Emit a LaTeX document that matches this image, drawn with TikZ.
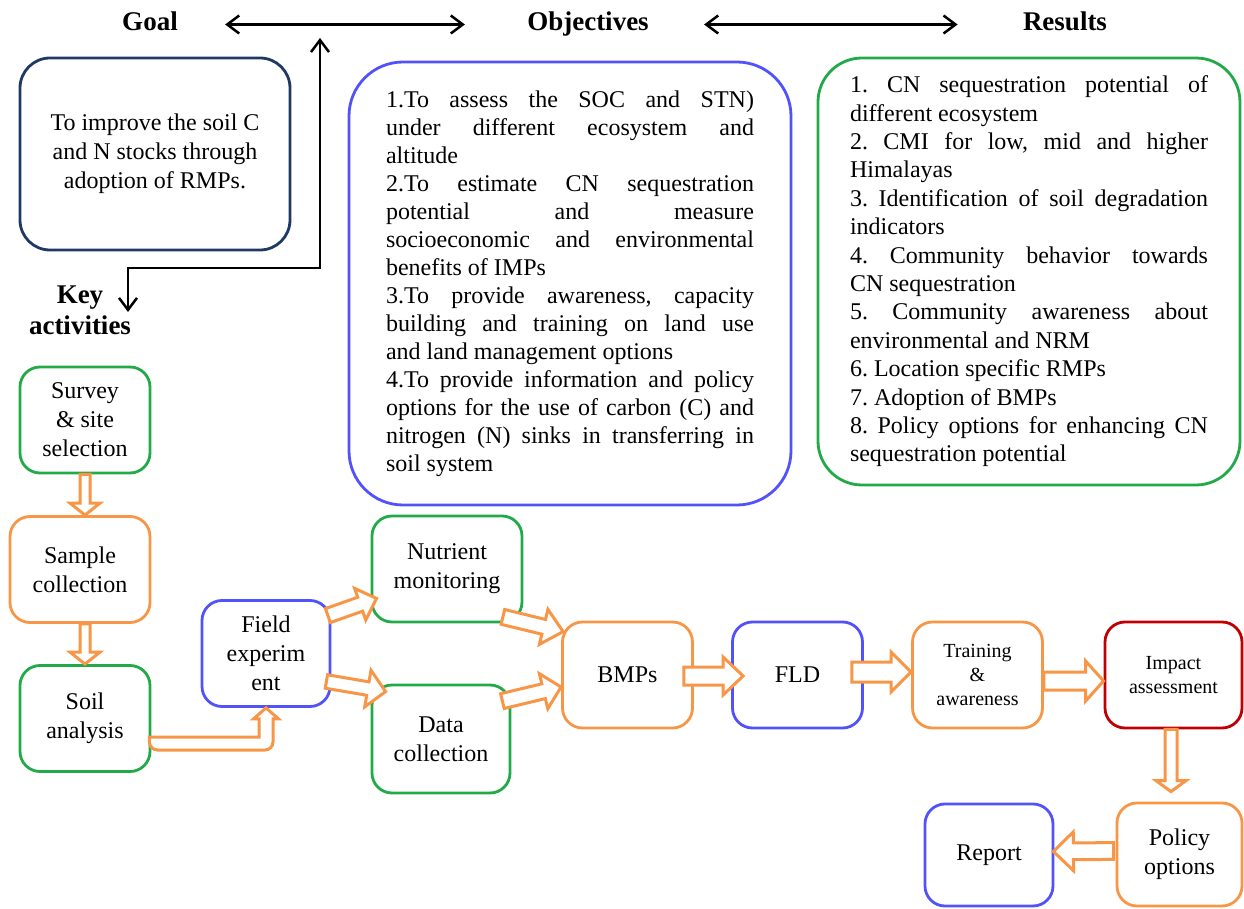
\documentclass[tikz,border=0pt]{standalone}
\usepackage{fontspec}
\setmainfont{Liberation Serif}
\usetikzlibrary{arrows.meta}
\usetikzlibrary{calc}
\setlength{\parindent}{0pt}
\tolerance=10000
\hbadness=10000
\frenchspacing

\definecolor{bgreen}{RGB}{34,170,72}
\definecolor{borange}{RGB}{247,150,70}
\definecolor{bblue}{RGB}{82,82,250}
\definecolor{bnavy}{RGB}{31,56,100}
\definecolor{bred}{RGB}{192,0,0}

\tikzset{>={Straight Barb[length=6pt,width=9pt]}}
\tikzset{
    box/.style={draw, rounded corners=10pt, line width=1.4pt, align=center, inner sep=1pt,
        minimum width=65pt, minimum height=53pt, font=\fontsize{12}{14.5}\selectfont},
    greenbox/.style={box, draw=bgreen},
    orangebox/.style={box, draw=borange},
    bluebox/.style={box, draw=bblue},
    redbox/.style={box, draw=bred},
    smalltext/.style={font=\fontsize{10}{12}\selectfont},
    boldtext/.style={inner sep=0pt, font=\fontsize{13.5}{15.5}\selectfont\bfseries},
    heading/.style={boldtext, anchor=base, text height=9.5pt, text depth=3pt},
    linkarrow/.style={<->, line width=1.25pt},
    blockarr/.style={draw=borange, fill=white, line width=1.5pt, line join=miter}
}

% hollow block arrow: tail, tip, shaft half width, head half width, head length (pt)
\newcommand{\blockarrow}[5]{%
    \draw[blockarr] let \p1=(#1), \p2=(#2),
        \n1={atan2(\y2-\y1,\x2-\x1)}, \n2={veclen(\x2-\x1,\y2-\y1)} in
        [shift={(\x1,\y1)}, rotate=\n1]
        (0pt,#3pt) -- ({\n2-#5pt},#3pt) -- ({\n2-#5pt},#4pt) -- ({\n2+0pt},0pt)
        -- ({\n2-#5pt},-#4pt) -- ({\n2-#5pt},-#3pt) -- (0pt,-#3pt) -- cycle;
}

\begin{document}
\begin{tikzpicture}[x=0.5pt, y=-0.5pt]
    \useasboundingbox (0,0) rectangle (1244,909);

    % headings
    \node[heading] (hgoal) at (150,31) {Goal};
    \node[heading] (hobj) at (588,31) {Objectives};
    \node[heading] (hres) at (1065,31) {Results};
    \node[boldtext, align=center] (hkey) at (80,310) {Key\\activities};

    \coordinate (uptip) at (320,38);
    \coordinate (keytip) at (128,312);

    \draw[linkarrow, shorten <=23.5pt, shorten >=31pt] (hgoal.east) -- (hobj.west);
    \draw[linkarrow, shorten <=27.5pt, shorten >=32.5pt] (hobj.east) -- (hres.west);
    \draw[linkarrow] (uptip) |- ($(keytip)+(0,-44)$) -- (keytip);

    % top boxes
    \node[box, draw=bnavy, rounded corners=15pt, minimum width=135pt, minimum height=96pt] (goal) at (155,154)
        {To improve the soil C\\and N stocks through\\adoption of RMPs.};

    \node[box, draw=bblue, rounded corners=27pt, minimum width=221pt, minimum height=221.5pt,
        text width=184pt, align=justify, font=\fontsize{12}{14}\selectfont] (obj) at (570,283.5)
        {1.To assess the SOC and STN)\linebreak under different ecosystem and\linebreak altitude\\
        2.To estimate CN sequestration\linebreak potential and measure\linebreak
        socioeconomic and environmental\linebreak benefits of IMPs\\
        3.To provide awareness, capacity\linebreak building and training on land use\linebreak
        and land management options\\
        4.To provide information and policy\linebreak options for the use of carbon (C) and\linebreak
        nitrogen (N) sinks in transferring in\linebreak soil system};

    \node[box, draw=bgreen, rounded corners=22pt, minimum width=211pt, minimum height=213.5pt,
        text width=179pt, align=justify, font=\fontsize{12}{14.2}\selectfont] (res) at (1029,271.5)
        {1. CN sequestration potential of\linebreak different ecosystem\\
        2. CMI for low, mid and higher\linebreak Himalayas\\
        3. Identification of soil degradation\linebreak indicators\\
        4. Community behavior towards\linebreak CN sequestration\\
        5. Community awareness about\linebreak environmental and NRM\\
        6. Location specific RMPs\\
        7. Adoption of BMPs\\
        8. Policy options for enhancing CN\linebreak sequestration potential};

    % key activities
    \node[greenbox] (survey) at (85,420) {Survey\\\& site\\selection};
    \node[orangebox, minimum width=70pt] (sample) at (80,569.5) {Sample\\collection};
    \node[greenbox] (soil) at (85,718.5) {Soil\\analysis};
    \node[bluebox, minimum width=64pt] (field) at (266,653.5) {Field\\experim\\ent};
    \node[greenbox, minimum width=75pt] (nutr) at (447,569) {Nutrient\\monitoring};
    \node[greenbox, minimum width=69pt, minimum height=54pt] (data) at (441,739) {Data\\collection};
    \node[orangebox] (bmps) at (627.5,675) {BMPs};
    \node[bluebox] (fld) at (797.5,675) {FLD};
    \node[orangebox, smalltext] (train) at (977.5,675) {Training\\\&\\awareness};
    \node[redbox, smalltext, minimum width=68.5pt] (impact) at (1173.5,675) {Impact\\assessment};
    \node[orangebox, minimum width=62.5pt, minimum height=51.5pt] (policy) at (1179.5,854.5) {Policy\\options};
    \node[bluebox, minimum width=64pt, minimum height=51pt] (report) at (989,855) {Report};

    % block arrows
    \blockarrow{survey.south}{survey.south |- sample.north}{2.5}{7.5}{6}
    \blockarrow{soil.north |- sample.south}{soil.north}{2.5}{7.5}{6}
    \draw[blockarr] ($(soil.east)+(-2,18.5)$) -| ($(field.south)+(-7,11)$) -- ++(-5.5,0)
        -- (field.south) -- ++(12.5,11) -- ++(-5.5,0) [rounded corners=4pt]
        |- ($(soil.east)+(-2,31.5)$) [sharp corners] -- cycle;
    \blockarrow{$(field.north east)+(-3.5,16.5)$}{$(nutr.south west)+(6,-25)$}{3.7}{8.4}{8.7}
    \blockarrow{$(field.east)+(-5,28)$}{$(data.north west)+(15,8)$}{3.4}{9.3}{9}
    \blockarrow{$(nutr.south east)+(-20.5,-6.5)$}{$(bmps.north west)+(2,11)$}{3.8}{9}{10}
    \blockarrow{$(data.north east)+(-9,17.5)$}{$(bmps.west)+(0,12)$}{3.8}{9}{9}
    \blockarrow{$(bmps.east)+(-10,1)$}{$(fld.west)+(12,1)$}{4.5}{9.5}{10}
    \blockarrow{$(fld.east)+(-12,-3)$}{$(train.west)+(0,-3)$}{5}{10}{10}
    \blockarrow{$(train.east)+(0,6)$}{$(impact.west)+(0,6)$}{4.5}{10}{9}
    \blockarrow{$(impact.south)+(-2.5,0)$}{$(policy.north)+(-8.5,-10)$}{3}{7.5}{5.5}
    \blockarrow{$(policy.west)+(-2,-3.5)$}{$(report.east)+(-1,-3.5)$}{4.2}{9.7}{10}
\end{tikzpicture}
\end{document}
